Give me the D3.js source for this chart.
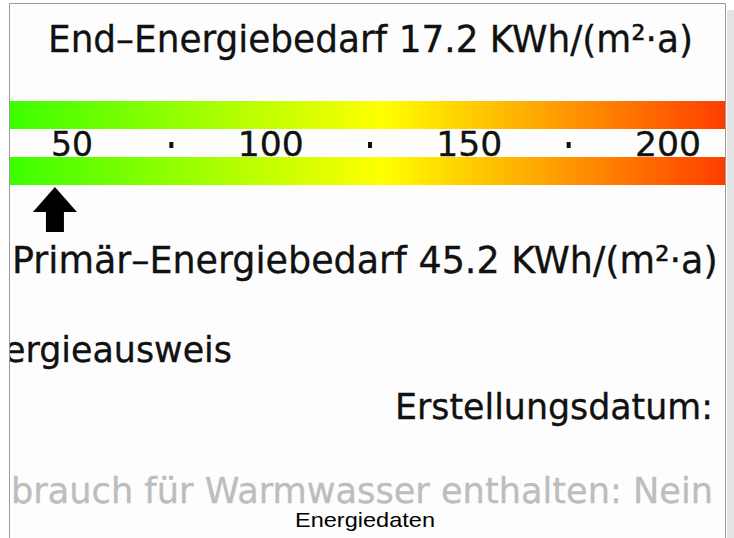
<!DOCTYPE html>
<html>
<head>
<meta charset="utf-8">
<script src="https://cdn.jsdelivr.net/npm/d3@7"></script>
<style>
  body { margin: 0; background: #fff; }
  svg { display: block; }
</style>
</head>
<body>
<div id="chart"></div>
<script>
// values
const ticks = [50, 100, 150, 200];
const minorTicks = [75, 125, 175];
const endEnergy = [17.2];
const primaryEnergy = [45.2];
const gradStops = [
  { offset: 0, color: '#3cff00' },
  { offset: 0.52, color: '#ffff00' },
  { offset: 1, color: '#ff3d00' }
];
const infoLines = ['ergieausweis', 'Erstellungsdatum:', 'brauch für Warmwasser enthalten: Nein'];

const W = 734, H = 538;
const FRAME = { LEFT: 9, TOP: 3, RIGHT: 725 };
const FONT = '"DejaVu Sans", sans-serif';

const svg = d3.select('#chart')
  .append('svg')
    .attr('width', W)
    .attr('height', H);

// gray strip on the right
svg.append('rect')
  .attr('x', 727).attr('y', 10)
  .attr('width', 7).attr('height', H - 10)
  .attr('fill', '#e3e3e3');

const defs = svg.append('defs');
defs.append('clipPath').attr('id', 'frameclip')
  .append('rect')
    .attr('x', FRAME.LEFT + 1).attr('y', FRAME.TOP + 1)
    .attr('width', FRAME.RIGHT - FRAME.LEFT - 1)
    .attr('height', H);

const lg = defs.append('linearGradient')
  .attr('id', 'scalegrad')
  .attr('x1', '0%').attr('x2', '100%')
  .attr('y1', '0%').attr('y2', '0%');
lg.selectAll('stop')
  .data(gradStops)
  .join('stop')
    .attr('offset', d => d.offset * 100 + '%')
    .style('stop-color', d => d.color);

svg.append('rect')
  .attr('x', FRAME.LEFT).attr('y', FRAME.TOP)
  .attr('width', FRAME.RIGHT - FRAME.LEFT).attr('height', H)
  .attr('fill', '#fdfdfd');

const g = svg.append('g');
const clipped = svg.append('g').attr('clip-path', 'url(#frameclip)');

const x = d3.scaleLinear().domain([50, 200]).range([72, 668]);

// squeezed screenshot-like text: draw at (0,0), then scale it to the wanted width
function label(sel, px, py, size, len, fill) {
  sel.attr('font-family', FONT)
    .attr('font-size', size)
    .attr('fill', fill || '#111')
    .attr('stroke', fill || '#111')
    .attr('stroke-width', 0.35);
  sel.each(function(d, i) {
    const w = this.getComputedTextLength();
    const tx = typeof px === 'function' ? px(d, i) : px;
    const target = typeof len === 'function' ? len(d, i) : len;
    d3.select(this).attr('transform', `translate(${tx},${py}) scale(${target / w},1)`);
  });
  return sel;
}

// title
g.selectAll('text.title')
  .data(endEnergy)
  .join('text')
    .attr('class', 'title')
    .text(d => `End–Energiebedarf ${d} KWh/(m²·a)`)
    .call(label, 48, 52, 38, 645);

// gradient bars
[101, 157].forEach(y => {
  g.append('rect')
    .attr('x', FRAME.LEFT + 1).attr('y', y)
    .attr('width', FRAME.RIGHT - FRAME.LEFT).attr('height', 28)
    .attr('fill', 'url(#scalegrad)');
});

// tick labels
g.selectAll('text.tick')
  .data(ticks)
  .join('text')
    .attr('class', 'tick')
    .attr('text-anchor', 'middle')
    .text(d => d)
    .call(label, d => x(d), 156, 33, d => d < 100 ? 42 : 66);

g.selectAll('rect.dot')
  .data(minorTicks)
  .join('rect')
    .attr('class', 'dot')
    .attr('x', d => x(d) - 2).attr('y', 142)
    .attr('width', 4).attr('height', 6)
    .attr('fill', '#111');

// arrow marker
const ax = x(primaryEnergy[0]) + 2;
g.append('path')
  .attr('d', `M${ax},187 L${ax + 22},212 L${ax + 9},212 L${ax + 9},232 L${ax - 9},232 L${ax - 9},212 L${ax - 22},212 Z`)
  .attr('fill', '#000');

g.selectAll('text.primary')
  .data(primaryEnergy)
  .join('text')
    .attr('class', 'primary')
    .text(d => `Primär–Energiebedarf ${d} KWh/(m²·a)`)
    .call(label, 12, 273, 38, 706);

// info lines (first and last are cut by the frame, as in the screenshot)
clipped.append('text')
  .text(infoLines[0])
  .call(label, 4, 362, 36, 228);

g.append('text')
  .text(infoLines[1])
  .call(label, 395, 419, 36, 318);

clipped.append('text')
  .text(infoLines[2])
  .call(label, 11, 503, 36, 702, '#bdbdbd');

// frame border
svg.append('path')
  .attr('d', `M${FRAME.LEFT + 0.5},${H} V${FRAME.TOP + 0.5} H${FRAME.RIGHT + 0.5} V${H}`)
  .attr('fill', 'none')
  .attr('stroke', '#9a9a9a')
  .attr('stroke-width', 1);

// caption
svg.append('text')
  .attr('x', 295).attr('y', 527)
  .attr('font-family', '"Liberation Sans", Arial, sans-serif')
  .attr('font-size', 21)
  .attr('textLength', 140)
  .attr('lengthAdjust', 'spacingAndGlyphs')
  .attr('fill', '#000')
  .text('Energiedaten');
</script>
</body>
</html>
